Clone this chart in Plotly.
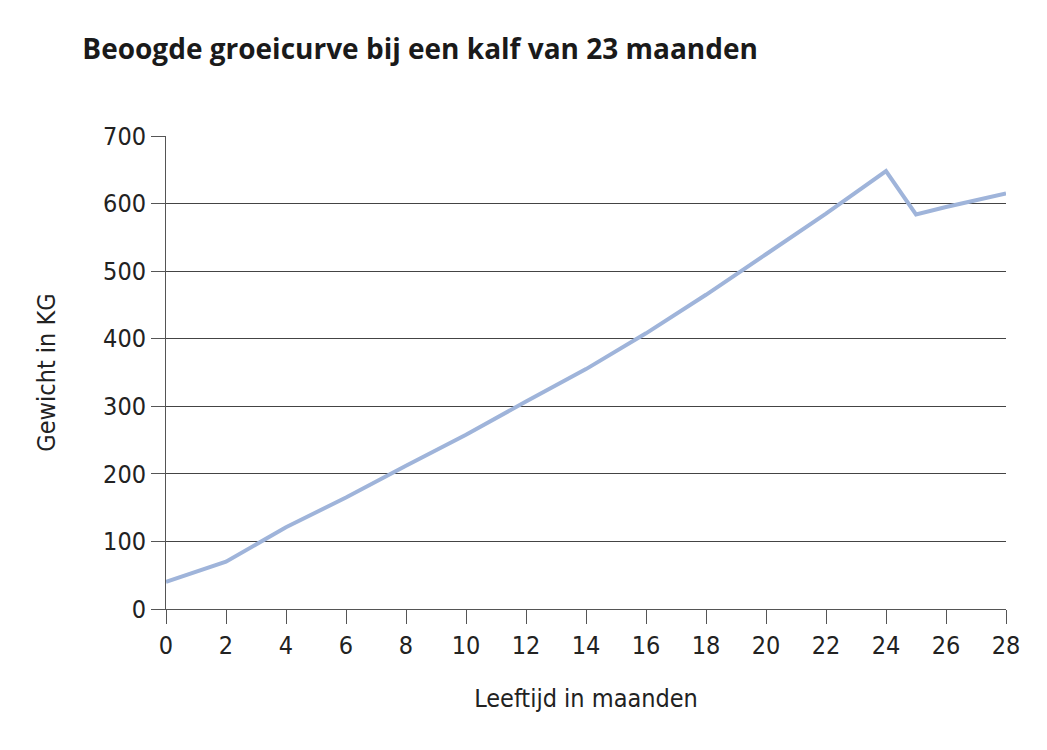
import plotly.graph_objects as go

# Growth curve for a calf calving at 23 months
leeftijd = [0, 2, 4, 6, 8, 10, 12, 14, 16, 18, 20, 22, 24, 25, 26, 28]
gewicht = [40, 70, 121, 165, 212, 258, 307, 355, 408, 465, 525, 585, 648, 584, 595, 615]

x_ticks = list(range(0, 29, 2))
y_ticks = list(range(0, 701, 100))

tick_font = dict(family="Liberation Sans Narrow, DejaVu Sans Condensed, sans-serif", size=25, color="#222")

fig = go.Figure()
fig.add_trace(go.Scatter(
    x=leeftijd, y=gewicht, mode="lines",
    line=dict(color="#9fb4da", width=4),
    showlegend=False,
))

fig.update_layout(
    width=1047, height=750,
    paper_bgcolor="white", plot_bgcolor="white",
    margin=dict(l=158, r=49, t=128, b=149),
    title=dict(
        text="<b>Beoogde groeicurve bij een kalf van 23 maanden</b>",
        x=0.071, xanchor="left", y=0.945, yanchor="middle",
        font=dict(family="Open Sans, sans-serif", size=28, color="#1a1a1a"),
    ),
)
fig.update_xaxes(
    range=[0, 28], tickvals=x_ticks, showgrid=False,
    ticks="outside", ticklen=14, tickcolor="#555", tickwidth=1,
    showline=True, linecolor="#555", linewidth=1,
    tickfont=tick_font,
    title=dict(text="Leeftijd in maanden", font=tick_font, standoff=30),
)
fig.update_yaxes(
    range=[0, 700], tickvals=y_ticks, showgrid=True, gridcolor="#444", gridwidth=1,
    ticks="outside", ticklen=14, tickcolor="#555", tickwidth=1,
    showline=True, linecolor="#555", linewidth=1, zeroline=False,
    tickfont=tick_font,
    title=dict(text="Gewicht in KG", font=tick_font, standoff=40),
)

fig.write_html("out.html")
